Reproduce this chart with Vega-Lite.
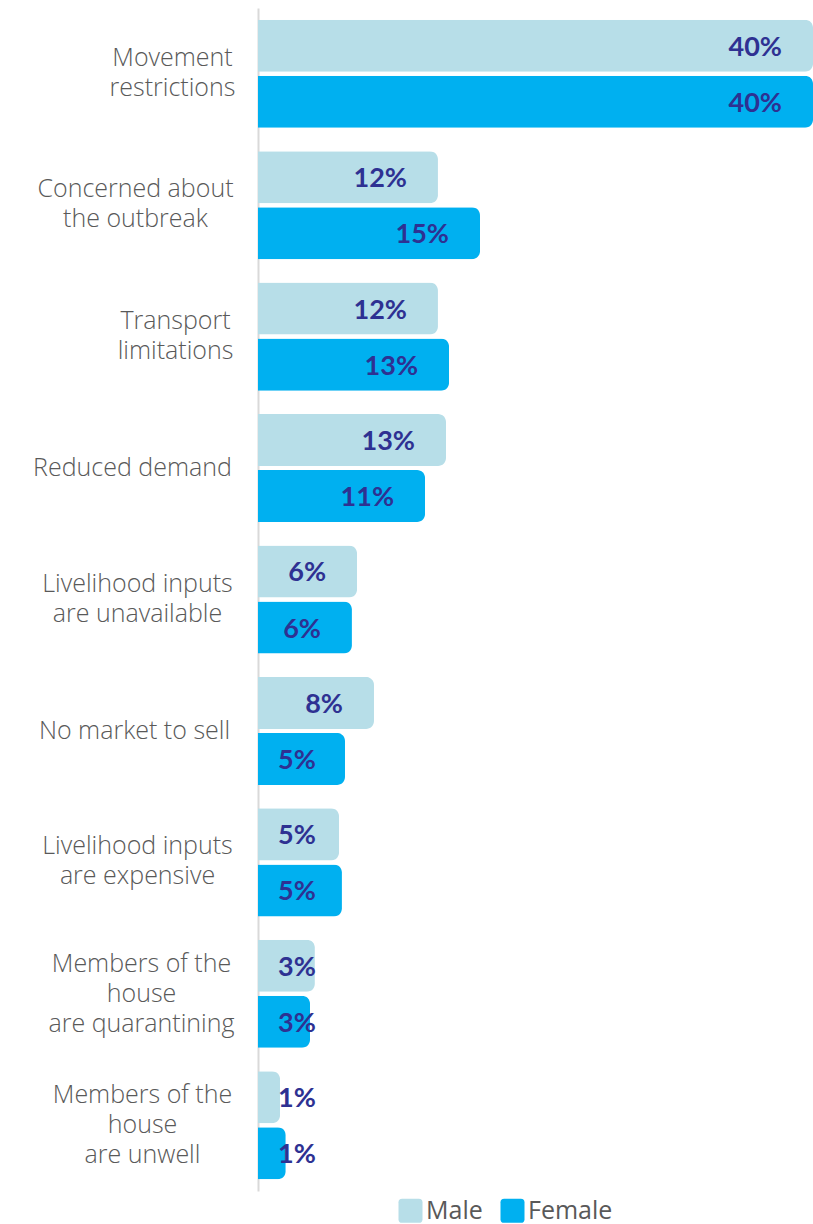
{
  "$schema": "https://vega.github.io/schema/vega-lite/v6.json",
  "width": 555,
  "height": 1183,
  "autosize": {"type": "none"},
  "padding": {"left": 258, "top": 8, "right": 0, "bottom": 33},
  "background": "white",
  "config": {"view": {"stroke": null}},
  "data": {
    "values": [
      {"reason": "Movement\nrestrictions", "gender": "Male", "value": 0.40, "pct": "40%"},
      {"reason": "Movement\nrestrictions", "gender": "Female", "value": 0.40, "pct": "40%"},
      {"reason": "Concerned about\nthe outbreak", "gender": "Male", "value": 0.1297, "pct": "12%"},
      {"reason": "Concerned about\nthe outbreak", "gender": "Female", "value": 0.16, "pct": "15%"},
      {"reason": "Transport\nlimitations", "gender": "Male", "value": 0.1297, "pct": "12%"},
      {"reason": "Transport\nlimitations", "gender": "Female", "value": 0.1377, "pct": "13%"},
      {"reason": "Reduced demand", "gender": "Male", "value": 0.1355, "pct": "13%"},
      {"reason": "Reduced demand", "gender": "Female", "value": 0.1204, "pct": "11%"},
      {"reason": "Livelihood inputs\nare unavailable", "gender": "Male", "value": 0.0714, "pct": "6%"},
      {"reason": "Livelihood inputs\nare unavailable", "gender": "Female", "value": 0.0677, "pct": "6%"},
      {"reason": "No market to sell", "gender": "Male", "value": 0.0836, "pct": "8%"},
      {"reason": "No market to sell", "gender": "Female", "value": 0.0627, "pct": "5%"},
      {"reason": "Livelihood inputs\nare expensive", "gender": "Male", "value": 0.0584, "pct": "5%"},
      {"reason": "Livelihood inputs\nare expensive", "gender": "Female", "value": 0.0605, "pct": "5%"},
      {"reason": "Members of the\nhouse\nare quarantining", "gender": "Male", "value": 0.041, "pct": "3%"},
      {"reason": "Members of the\nhouse\nare quarantining", "gender": "Female", "value": 0.0375, "pct": "3%"},
      {"reason": "Members of the\nhouse\nare unwell", "gender": "Male", "value": 0.0159, "pct": "1%"},
      {"reason": "Members of the\nhouse\nare unwell", "gender": "Female", "value": 0.02, "pct": "1%"}
    ]
  },
  "encoding": {
    "y": {
      "field": "reason",
      "type": "nominal",
      "sort": null,
      "scale": {"paddingInner": 0.178, "paddingOuter": 0.089},
      "axis": {
        "title": null,
        "ticks": false,
        "domainColor": "#d9d9d9",
        "domainWidth": 2,
        "labelExpr": "split(datum.value, '\\n')",
        "labelFont": "Open Sans",
        "labelFontWeight": 300,
        "labelFontSize": 25,
        "labelColor": "#595959",
        "labelLineHeight": 30,
        "labelAlign": "center",
        "labelLimit": 300,
        "labelOffset": {
          "condition": [
            {"test": "length(split(datum.value, '\\n')) == 3", "value": -30},
            {"test": "length(split(datum.value, '\\n')) == 2", "value": -16}
          ],
          "value": 0
        },
        "labelPadding": {
          "condition": [
            {"test": "indexof(datum.value, 'Movement') == 0", "value": 86},
            {"test": "indexof(datum.value, 'Concerned') == 0", "value": 123},
            {"test": "indexof(datum.value, 'Transport') == 0", "value": 83},
            {"test": "indexof(datum.value, 'Reduced') == 0", "value": 126},
            {"test": "indexof(datum.value, 'unavailable') >= 0", "value": 121},
            {"test": "indexof(datum.value, 'No market') == 0", "value": 124},
            {"test": "indexof(datum.value, 'expensive') >= 0", "value": 121},
            {"test": "indexof(datum.value, 'quarantining') >= 0", "value": 117}
          ],
          "value": 116
        }
      }
    },
    "yOffset": {
      "field": "gender",
      "type": "nominal",
      "sort": ["Male", "Female"],
      "scale": {"paddingInner": 0.0714}
    }
  },
  "layer": [
    {
      "mark": {"type": "bar", "cornerRadiusEnd": 8},
      "encoding": {
        "x": {
          "field": "value",
          "type": "quantitative",
          "scale": {"domain": [0, 0.4], "nice": false},
          "axis": null
        },
        "color": {
          "field": "gender",
          "type": "nominal",
          "scale": {"domain": ["Male", "Female"], "range": ["#b7dee8", "#00b0f0"]},
          "legend": {
            "title": null,
            "orient": "none",
            "legendX": 140,
            "legendY": 1190,
            "direction": "horizontal",
            "symbolType": "M -0.7 -1 L 0.7 -1 Q 1 -1 1 -0.7 L 1 0.7 Q 1 1 0.7 1 L -0.7 1 Q -1 1 -1 0.7 L -1 -0.7 Q -1 -1 -0.7 -1 Z",
            "symbolSize": 576,
            "symbolStrokeWidth": 0,
            "symbolOpacity": 1,
            "labelFont": "Open Sans",
            "labelFontSize": 25,
            "labelColor": "#595959",
            "labelOffset": 3,
            "columnPadding": 17
          }
        }
      }
    },
    {
      "transform": [{"filter": "datum.value >= 0.065"}],
      "mark": {"type": "text", "align": "right", "baseline": "middle", "dx": -31, "dy": 2, "font": "Lato", "fontWeight": "bold", "fontSize": 27, "color": "#2e3192"},
      "encoding": {
        "x": {"field": "value", "type": "quantitative"},
        "text": {"field": "pct"}
      }
    },
    {
      "transform": [{"filter": "datum.value < 0.065"}],
      "mark": {"type": "text", "align": "left", "baseline": "middle", "dx": 20, "dy": 2, "font": "Lato", "fontWeight": "bold", "fontSize": 27, "color": "#2e3192"},
      "encoding": {
        "x": {"datum": 0, "type": "quantitative"},
        "text": {"field": "pct"}
      }
    }
  ]
}
